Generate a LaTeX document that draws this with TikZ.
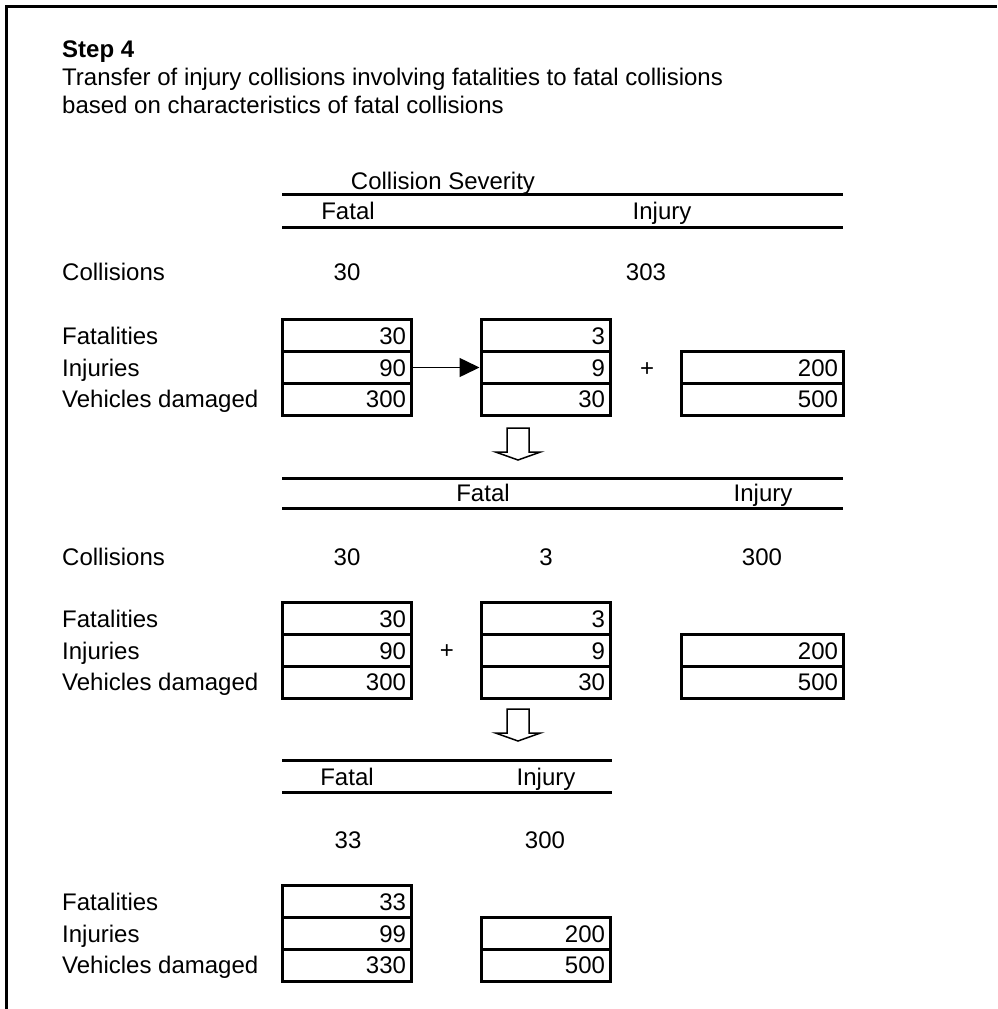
\documentclass[tikz,border=0pt]{standalone}
\usepackage{fontspec}
\setmainfont{Liberation Sans}
\usetikzlibrary{arrows.meta}
\begin{document}
\begin{tikzpicture}[x=1pt,y=-1pt,
  every node/.style={font=\fontsize{24}{28}\selectfont, inner sep=0pt, text height=17pt, text depth=0pt},
  lbl/.style={anchor=west},
  hrule/.style={line width=3pt},
  cellA/.style={draw, line width=3pt, minimum height=31.7pt, inner xsep=5pt, text width=119pt, align=right},
  cellC/.style={draw, line width=3pt, minimum height=31.7pt, inner xsep=5pt, text width=152pt, align=right},
  flow/.style={line width=1.5pt, -{Triangle[length=20pt,width=19pt]}},
  blockarrow/.pic={\draw[line width=1.5pt, line join=miter] (-11,0) -- (11,0) -- (11,24) -- (22.5,24) -- (0,32) -- (-22.5,24) -- (-11,24) -- cycle;}
]
\useasboundingbox (0,0) rectangle (997,1009);
% frame
\draw[line width=3pt] (6,1009) -- (6,6) -- (997,6);
% title
\node[lbl,font=\fontsize{24}{28}\selectfont\bfseries] (title) at (62,49) {Step 4};
\node[lbl] (t1) at (62,77) {Transfer of injury collisions involving fatalities to fatal collisions};
\node[lbl] (t2) at (62,105) {based on characteristics of fatal collisions};
% ---------- section 1
\node (cs) at (443,181) {Collision Severity};
\draw[hrule] (282,194) -- (843,194);
\node (h1f) at (348,211) {Fatal};
\node (h1i) at (662,211) {Injury};
\draw[hrule] (282,227) -- (843,227);
\node[lbl] (c1l) at (62,272) {Collisions};
\node (c1a) at (347,272) {30};
\node (c1b) at (646,272) {303};
\node[lbl] (f1) at (62,335.8) {Fatalities};
\node[lbl] (i1) at (62,367.5) {Injuries};
\node[lbl] (v1) at (62,399.2) {Vehicles damaged};
\node[cellA] (a1r1) at (346.5,335.8) {30};
\node[cellA] (a1r2) at (346.5,367.5) {90};
\node[cellA] (a1r3) at (346.5,399.2) {300};
\node[cellA] (b1r1) at (545.5,335.8) {3};
\node[cellA] (b1r2) at (545.5,367.5) {9};
\node[cellA] (b1r3) at (545.5,399.2) {30};
\node[cellC] (c1r2) at (762,367.5) {200};
\node[cellC] (c1r3) at (762,399.2) {500};
\node (p1) at (647,368) {+};
\draw[flow] (a1r2.east) -- (b1r2.west);
\pic at (518,428) {blockarrow};
% ---------- section 2
\draw[hrule] (282,478) -- (843,478);
\node (h2f) at (483,493) {Fatal};
\node (h2i) at (763,493) {Injury};
\draw[hrule] (282,508) -- (843,508);
\node[lbl] (c2l) at (62,557) {Collisions};
\node (c2a) at (347,557) {30};
\node (c2b) at (546,557) {3};
\node (c2c) at (762,557) {300};
\node[lbl] (f2) at (62,618.8) {Fatalities};
\node[lbl] (i2) at (62,650.5) {Injuries};
\node[lbl] (v2) at (62,682.2) {Vehicles damaged};
\node[cellA] (a2r1) at (346.5,618.8) {30};
\node[cellA] (a2r2) at (346.5,650.5) {90};
\node[cellA] (a2r3) at (346.5,682.2) {300};
\node[cellA] (b2r1) at (545.5,618.8) {3};
\node[cellA] (b2r2) at (545.5,650.5) {9};
\node[cellA] (b2r3) at (545.5,682.2) {30};
\node[cellC] (c2r2) at (762,650.5) {200};
\node[cellC] (c2r3) at (762,682.2) {500};
\node (p2) at (447,650) {+};
\pic at (518,709) {blockarrow};
% ---------- section 3
\draw[hrule] (282,760) -- (612,760);
\node (h3f) at (347,777) {Fatal};
\node (h3i) at (546,777) {Injury};
\draw[hrule] (282,792) -- (612,792);
\node (c3a) at (348,840) {33};
\node (c3b) at (545,840) {300};
\node[lbl] (f3) at (62,901.8) {Fatalities};
\node[lbl] (i3) at (62,933.5) {Injuries};
\node[lbl] (v3) at (62,965.2) {Vehicles damaged};
\node[cellA] (a3r1) at (346.5,901.8) {33};
\node[cellA] (a3r2) at (346.5,933.5) {99};
\node[cellA] (a3r3) at (346.5,965.2) {330};
\node[cellA] (b3r2) at (545.5,933.5) {200};
\node[cellA] (b3r3) at (545.5,965.2) {500};
\end{tikzpicture}
\end{document}
